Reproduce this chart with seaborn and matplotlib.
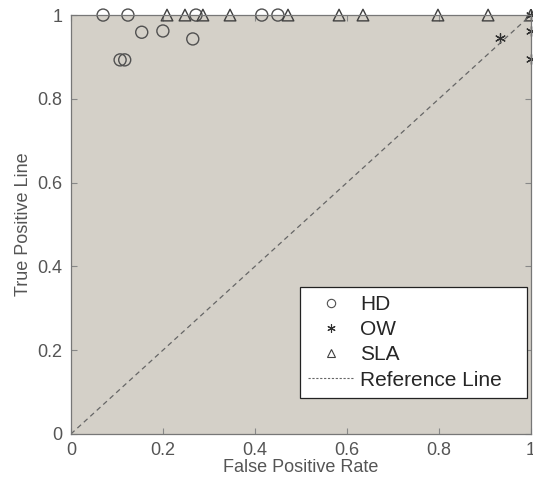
import numpy as np
import pandas as pd
import matplotlib
matplotlib.use('Agg')
import matplotlib.pyplot as plt
import seaborn as sns
from matplotlib.lines import Line2D

sns.set_style('white')
plt.rcParams['font.family'] = ['Liberation Sans', 'DejaVu Sans']

# data
hd_fpr = [0.070, 0.124, 0.272, 0.415, 0.450, 0.154, 0.200, 0.265, 0.107, 0.117]
hd_tpr = [1.000, 1.000, 1.000, 1.000, 1.000, 0.959, 0.962, 0.943, 0.893, 0.893]
ow_fpr = [0.933, 1.000, 1.000, 1.000]
ow_tpr = [0.945, 1.000, 0.962, 0.895]
sla_fpr = [0.209, 0.248, 0.287, 0.346, 0.472, 0.583, 0.635, 0.798, 0.907, 1.000]
sla_tpr = [1.0] * 10
ref_line = [0, 1]
ticks = [0, 0.2, 0.4, 0.6, 0.8, 1]
tick_labels = ['0', '0.2', '0.4', '0.6', '0.8', '1']

txt = '#555555'
fig = plt.figure(figsize=(5.33, 4.86), dpi=100)
ax = fig.add_axes([0.133, 0.107, 0.863, 0.862])
ax.set_facecolor('#d4d0c8')

sns.lineplot(x=ref_line, y=ref_line, ax=ax, color='#666666', linestyle=(0, (4, 3)),
             linewidth=0.9, legend=False)
sns.scatterplot(x=hd_fpr, y=hd_tpr, ax=ax, marker='o', s=75, facecolors='none',
                edgecolor='#505050', linewidth=1.0, clip_on=False, legend=False)
sns.scatterplot(x=ow_fpr, y=ow_tpr, ax=ax, marker=(6, 2, 0), s=50, color='#303030',
                linewidth=0.9, clip_on=False, legend=False)
sns.scatterplot(x=sla_fpr, y=sla_tpr, ax=ax, marker='^', s=70, facecolors='none',
                edgecolor='#404040', linewidth=1.0, clip_on=False, legend=False)

ax.set_xlim(0, 1)
ax.set_ylim(0, 1)
ax.set_xticks(ticks)
ax.set_xticklabels(tick_labels)
ax.set_yticks(ticks)
ax.set_yticklabels(tick_labels)
ax.tick_params(direction='in', length=4, color='#888888', labelsize=13, labelcolor=txt,
               top=True, right=True, bottom=True, left=True)
ax.tick_params(axis='x', pad=6)
ax.tick_params(axis='y', pad=6)
for sp in ax.spines.values():
    sp.set_color('#777777')
    sp.set_linewidth(0.9)
ax.set_xlabel('False Positive Rate', fontsize=13, color=txt, labelpad=0)
ax.set_ylabel('True Positive Line', fontsize=13, color=txt, labelpad=4)

handles = [
    Line2D([], [], marker='o', linestyle='none', markersize=6, markerfacecolor='none',
           markeredgecolor='#505050', markeredgewidth=0.8),
    Line2D([], [], marker=(6, 2, 0), linestyle='none', markersize=6, color='#303030',
           markeredgewidth=0.8),
    Line2D([], [], marker='^', linestyle='none', markersize=6, markerfacecolor='none',
           markeredgecolor='#404040', markeredgewidth=0.8),
    Line2D([], [], color='#666666', linestyle=(0, (2, 1.5)), linewidth=0.8),
]
leg = ax.legend(handles, ['HD', 'OW', 'SLA', 'Reference Line'], loc='lower left',
                bbox_to_anchor=(0.498, 0.086, 0.493, 0.27), mode='expand',
                fontsize=15, frameon=True, fancybox=False,
                framealpha=1, edgecolor='#222222', handlelength=2.2, handletextpad=0.3,
                labelspacing=0.3, borderpad=0.4, borderaxespad=0)
leg.get_frame().set_linewidth(0.9)

fig.savefig('out.png', dpi=100)
